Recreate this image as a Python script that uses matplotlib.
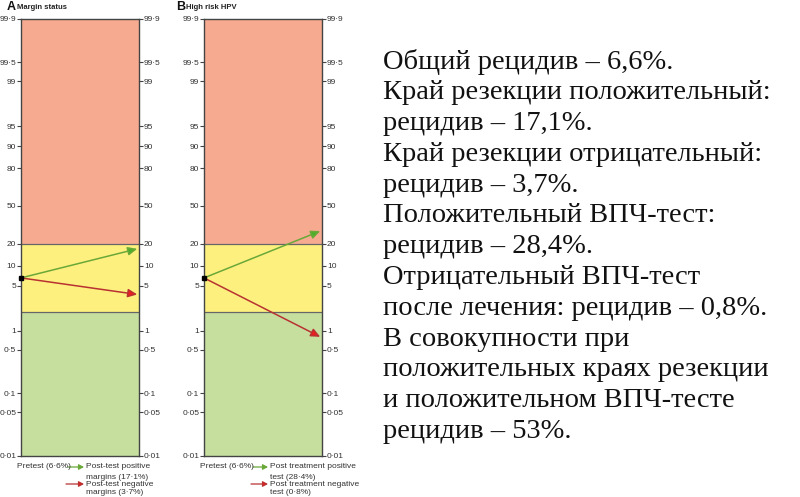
import numpy as np
import matplotlib
matplotlib.use("Agg")
import matplotlib.pyplot as plt
from matplotlib.ticker import FixedLocator, FixedFormatter, NullLocator

# ---- data ----
pretest = 6.6
panel_titles = [("A", "Margin status"), ("B", "High risk HPV")]
post_positive = [17.1, 28.4]
post_negative = [3.7, 0.8]
tick_values = [0.01, 0.05, 0.1, 0.5, 1, 5, 10, 20, 50, 80, 90, 95, 99, 99.5, 99.9]
tick_labels = ["0·01", "0·05", "0·1", "0·5", "1", "5", "10", "20", "50", "80", "90",
               "95", "99", "99·5", "99·9"]
band_edges = [0.01, 2, 20, 99.9]
band_colors = ["#c6df9f", "#fdf07f", "#f6ab91"]
legend_pos = [["Post-test positive", "margins (17·1%)"], ["Post treatment positive", "test (28·4%)"]]
legend_neg = [["Post-test negative", "margins (3·7%)"], ["Post treatment negative", "test (0·8%)"]]
summary_lines = [
    "Общий рецидив – 6,6%.",
    "Край резекции положительный:",
    "рецидив – 17,1%.",
    "Край резекции отрицательный:",
    "рецидив – 3,7%.",
    "Положительный ВПЧ-тест:",
    "рецидив – 28,4%.",
    "Отрицательный ВПЧ-тест",
    "после лечения: рецидив – 0,8%.",
    "В совокупности при",
    "положительных краях резекции",
    "и положительном ВПЧ-тесте",
    "рецидив – 53%.",
]

W, H = 800, 497
fig = plt.figure(figsize=(W / 100, H / 100), dpi=100)
plt.rcParams['font.family'] = ['Liberation Sans', 'DejaVu Sans']

def fx(px):
    return px / W

def fy(py):
    return 1 - py / H

lefts = [21, 204]
width = 118
top, bottom = 18.5, 456
green_line = "#6aa838"
red_line = "#b83232"
txt_col = "#333333"

for i in range(2):
    ax = fig.add_axes([fx(lefts[i]), fy(bottom), width / W, (bottom - top) / H])
    ax.set_yscale('logit')
    ax.set_ylim(band_edges[0] / 100, band_edges[-1] / 100)
    ax.set_xlim(0, 1)
    for j in range(3):
        ax.axhspan(band_edges[j] / 100, band_edges[j + 1] / 100, color=band_colors[j], lw=0, zorder=0)
    for e in band_edges[1:3]:
        ax.axhline(e / 100, color="#666666", lw=0.9, zorder=1)
    for s in ax.spines.values():
        s.set_color("#444444")
        s.set_linewidth(1.0)
    ax.yaxis.set_major_locator(FixedLocator([v / 100 for v in tick_values]))
    ax.yaxis.set_major_formatter(FixedFormatter(tick_labels))
    ax.yaxis.set_minor_locator(NullLocator())
    ax.tick_params(axis='y', which='major', left=True, right=True, labelleft=True,
                   labelright=True, direction='out', length=3, width=0.8,
                   color="#444444", labelsize=6, labelcolor=txt_col, pad=0.5)
    ax.set_xticks([])
    # lines
    for val, col, hc in [(post_positive[i], green_line, "#4caf2a"), (post_negative[i], red_line, "#ee1c1c")]:
        ax.annotate("", xy=(0.985, val / 100), xytext=(0.0, pretest / 100),
                    arrowprops=dict(arrowstyle="-|>,head_length=0.55,head_width=0.25",
                                    lw=1.1, shrinkA=0, shrinkB=0,
                                    fc=hc, ec=col), zorder=3)
    ax.plot([0], [pretest / 100], marker='s', ms=3, color="black", clip_on=False, zorder=4)

    # title
    letter, title = panel_titles[i]
    tx = [7, 176][i]
    fig.text(fx(tx), fy(7.5), letter, fontsize=9, fontweight='bold', va='center', ha='left', color="#111111")
    fig.text(fx(tx + 10), fy(7.5), title, fontsize=5.5, fontweight='bold', va='center', ha='left', color="#222222")

    # legend
    px0 = [17, 200][i]
    arr_x0 = [68, 253][i]
    arr_x1 = [84, 268][i]
    tx1 = arr_x1 + 2
    fig.text(fx(px0), fy(467), "Pretest (6·6%)", fontsize=6, va='center', ha='left', color=txt_col)
    fig.add_artist(matplotlib.patches.FancyArrowPatch((fx(arr_x0), fy(467)), (fx(arr_x1), fy(467)),
                   transform=fig.transFigure, arrowstyle="-|>,head_length=3,head_width=1.6",
                   color=green_line, lw=0.9, shrinkA=0, shrinkB=0))
    fig.text(fx(tx1), fy(467), legend_pos[i][0], fontsize=6, va='center', ha='left', color=txt_col)
    fig.text(fx(tx1), fy(477.5), legend_pos[i][1], fontsize=6, va='center', ha='left', color=txt_col)
    fig.add_artist(matplotlib.patches.FancyArrowPatch((fx(arr_x0 - 2), fy(484)), (fx(arr_x1), fy(484)),
                   transform=fig.transFigure, arrowstyle="-|>,head_length=3,head_width=1.6",
                   fc="#ee1c1c", ec=red_line, lw=0.9, shrinkA=0, shrinkB=0))
    fig.text(fx(tx1), fy(484), legend_neg[i][0], fontsize=6, va='center', ha='left', color=txt_col)
    fig.text(fx(tx1), fy(492.5), legend_neg[i][1], fontsize=6, va='center', ha='left', color=txt_col)

# summary text
y0 = 62
dy = 30.8
for k, line in enumerate(summary_lines):
    fig.text(fx(383), fy(y0 + k * dy), line, fontsize=20.5, family='Liberation Serif',
             va='center', ha='left', color="#111111")

fig.savefig("out.png", dpi=100)
